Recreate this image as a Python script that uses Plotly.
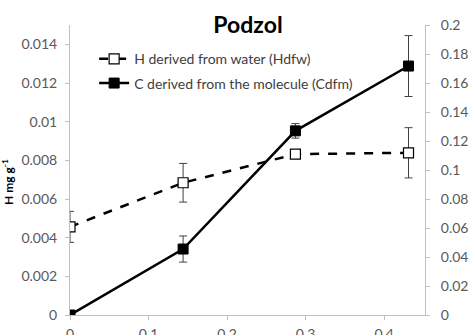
import plotly.graph_objects as go

x_vals = [0.0, 0.144, 0.287, 0.431]
h_vals = [0.00456, 0.00684, 0.00832, 0.00839]
h_err = [0.0008, 0.0010, 0.0002, 0.0013]
c_vals = [0.0, 0.0455, 0.127, 0.1717]
c_err = [0.0, 0.009, 0.005, 0.021]

left_ticks = [0, 0.002, 0.004, 0.006, 0.008, 0.01, 0.012, 0.014]
left_text = ["0", "0.002", "0.004", "0.006", "0.008", "0.01", "0.012", "0.014"]
right_ticks = [0, 0.02, 0.04, 0.06, 0.08, 0.1, 0.12, 0.14, 0.16, 0.18, 0.2]
right_text = ["0", "0.02", "0.04", "0.06", "0.08", "0.1", "0.12", "0.14", "0.16", "0.18", "0.2"]
x_ticks = [0, 0.1, 0.2, 0.3, 0.4]
x_text = ["0", "0.1", "0.2", "0.3", "0.4"]

FONT = "Lato, 'Open Sans', sans-serif"
AX = "#bfbfbf"
TXT = "#595959"

fig = go.Figure()
fig.add_trace(go.Scatter(
    x=x_vals, y=h_vals, name="H derived from water (Hdfw)",
    mode="lines+markers", legendgroup="a",
    line=dict(color="black", width=2.5, dash="dash"),
    marker=dict(symbol="square", size=10, color="white", line=dict(color="black", width=1.2)),
    error_y=dict(type="data", array=h_err, color="#404040", thickness=1, width=4),
    yaxis="y",
))
fig.add_trace(go.Scatter(
    x=x_vals, y=c_vals, name="C derived from the molecule (Cdfm)",
    mode="lines+markers", legendgroup="b",
    line=dict(color="black", width=2.5),
    marker=dict(symbol="square", size=10, color="black", line=dict(color="black", width=1)),
    error_y=dict(type="data", array=c_err, color="#404040", thickness=1, width=4),
    yaxis="y2",
))

fig.add_annotation(
    text="<b>H mg g<sup>-1</sup></b>", textangle=-90,
    xref="paper", yref="paper", x=-62 / 355, y=(315 - 182) / 290,
    xanchor="center", yanchor="middle", showarrow=False,
    font=dict(size=12, color="black", family=FONT),
)

fig.update_layout(
    width=469, height=335,
    margin=dict(l=70, r=44, t=25, b=20, autoexpand=False),
    paper_bgcolor="white", plot_bgcolor="white",
    font=dict(family=FONT, color=TXT, size=14),
    title=dict(text="<b>Podzol</b>", x=248 / 469, xanchor="center", y=0.925, yanchor="middle",
               font=dict(size=23, color="black", family=FONT), automargin=False),
    showlegend=True,
    legend=dict(x=0.068, y=0.937, xanchor="left", yanchor="top", bgcolor="rgba(0,0,0,0)",
                traceorder="grouped", tracegroupgap=3,
                font=dict(size=14, color="#404040", family=FONT)),
    xaxis=dict(range=[0, 0.452], tickvals=x_ticks, ticktext=x_text, showgrid=False, zeroline=False,
               showline=True, linecolor=AX, linewidth=1, ticks="outside", tickcolor=AX, ticklen=4,
               ticklabelstandoff=2, tickfont=dict(size=14, color=TXT), automargin=False),
    yaxis=dict(range=[0, 0.015], tickvals=left_ticks, ticktext=left_text, showgrid=False, zeroline=False,
               showline=True, linecolor=AX, linewidth=1, ticks="outside", tickcolor=AX, ticklen=4,
               ticklabelstandoff=5, tickfont=dict(size=14, color=TXT), automargin=False),
    yaxis2=dict(range=[0, 0.2], tickvals=right_ticks, ticktext=right_text, overlaying="y", side="right",
                showgrid=False, zeroline=False, showline=True, linecolor=AX, linewidth=1,
                ticks="outside", tickcolor=AX, ticklen=4, ticklabelstandoff=8,
                tickfont=dict(size=14, color=TXT), automargin=False),
)

fig.write_html("out.html")
